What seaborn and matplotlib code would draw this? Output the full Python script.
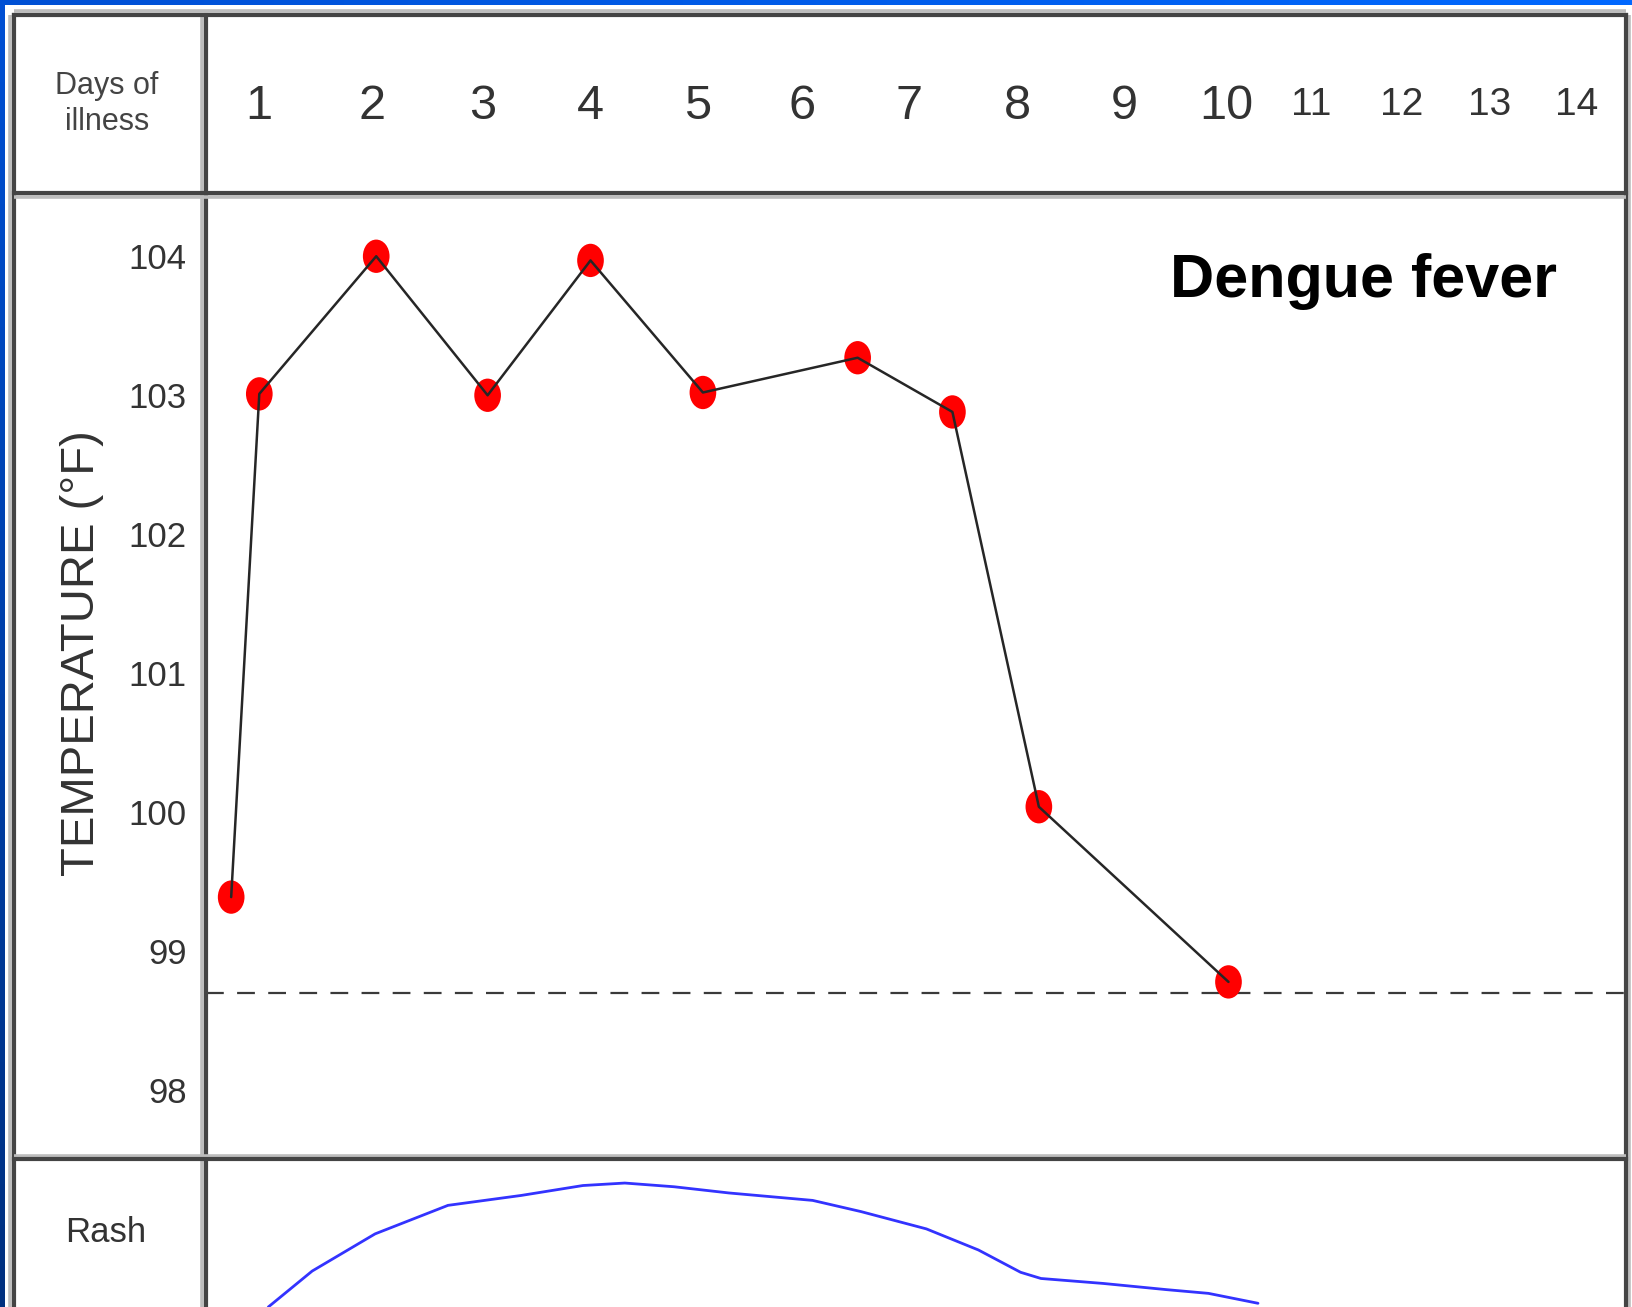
import numpy as np
import matplotlib
matplotlib.use("Agg")
import matplotlib.pyplot as plt
import matplotlib.transforms as mtransforms
from matplotlib.path import Path
import seaborn as sns

# ---- data ----
days = list(range(1, 15))
day_labels = [str(d) for d in days]
temp_ticks = [98, 99, 100, 101, 102, 103, 104]

fever_day = [0.75, 1.0, 2.04, 3.05, 4.0, 5.05, 6.52, 7.4, 8.2, 10.02]
fever_temp = [99.39, 103.01, 104.0, 103.0, 103.97, 103.02, 103.27, 102.88, 100.04, 98.78]
normal_temp = 98.7

rash_day = [1.08, 1.47, 2.03, 2.69, 3.36, 3.93, 4.32, 4.78, 5.30, 6.10, 6.55,
            7.16, 7.64, 8.03, 8.22, 8.80, 9.41, 9.82, 10.37]
rash_level = [0.0, 0.29, 0.59, 0.82, 0.90, 0.98, 1.0, 0.97, 0.92, 0.86, 0.77,
              0.63, 0.46, 0.28, 0.23, 0.19, 0.14, 0.11, 0.03]

# ---- layout ----
W, H = 1633, 1307
sns.set_theme(style="white")
plt.rcParams["font.family"] = ["Liberation Sans", "DejaVu Sans"]

# day columns are not evenly spaced on the chart (11-14 squeezed)
col_day = [0, 1, 2, 3, 4, 5, 6, 7, 8, 9, 10, 11, 12, 13, 14, 15]
col_px = [146.8, 259.3, 371.8, 482.2, 590.5, 697.7, 801.9, 909.1, 1017.4,
          1124.7, 1226.8, 1311.1, 1401.7, 1489.2, 1576.7, 1664.0]


def fwd(x):
    return np.interp(x, col_day, col_px)


def inv(p):
    return np.interp(p, col_px, col_day)


x_lo, x_hi = inv(206), inv(1626)

fig = plt.figure(figsize=(W / 100, H / 100), dpi=100)
fig.patch.set_facecolor("white")


def box(x0, y0, x1, y1, **kw):
    return fig.add_axes([x0 / W, 1 - y1 / H, (x1 - x0) / W, (y1 - y0) / H], **kw)


def setup_x(a):
    a.set_xscale("function", functions=(fwd, inv))
    a.set_xlim(x_lo, x_hi)
    a.set_xticks([])
    for s in a.spines.values():
        s.set_visible(False)
    a.set_facecolor("none")


# main temperature panel
ax = box(206, 193, 1626, 1159)
setup_x(ax)
ax.set_ylim(97.506, 104.455)
ax.set_yticks(temp_ticks)
ax.set_yticklabels([str(t) for t in temp_ticks], fontsize=25, color="#333333")
ax.tick_params(axis="y", length=0, pad=14)
ax.set_xlabel("")
ax.set_ylabel("")

ax.axhline(normal_temp, color="#3a3a3a", lw=1.6, dashes=(8, 6), zorder=1)
ell = Path.unit_circle().transformed(mtransforms.Affine2D().scale(0.8, 1.0))
sns.scatterplot(x=fever_day, y=fever_temp, ax=ax, marker=ell, s=24 ** 2,
                color="#ff0000", edgecolor="none", zorder=2, legend=False)
sns.lineplot(x=fever_day, y=fever_temp, ax=ax, sort=False, color="#262626",
             lw=1.8, zorder=3, legend=False)
ax.text(0.815, 0.908, "Dengue fever", transform=ax.transAxes, ha="center",
        va="center", fontsize=44, fontweight="bold", color="black")

# header row with day numbers
ax_head = box(206, 14.5, 1626, 193)
setup_x(ax_head)
ax_head.set_yticks([])
tr = mtransforms.blended_transform_factory(ax_head.transData, ax_head.transAxes)
for d, lab in zip(days, day_labels):
    ax_head.text(d, 0.515, lab, transform=tr, ha="center", va="center_baseline",
                 fontsize=35 if d <= 10 else 28, color="#333333")

# rash row (runs off the bottom edge)
ax_rash = box(206, 1159, 1626, 1307)
setup_x(ax_rash)
ax_rash.set_ylim(0, 1.194)
ax_rash.set_yticks([])
sns.lineplot(x=rash_day, y=rash_level, ax=ax_rash, sort=False, color="#3333ff",
             lw=2.0, legend=False)

# left column texts
fig.text(107 / W, 1 - 86 / H, "Days of", ha="center", va="center",
         fontsize=22, color="#444444")
fig.text(107 / W, 1 - 122 / H, "illness", ha="center", va="center",
         fontsize=22, color="#444444")
fig.text(82 / W, 1 - 653 / H, "TEMPERATURE (°F)", rotation=90, ha="center",
         va="center", fontsize=34, color="#333333")
fig.text(106 / W, 1 - 1232 / H, "Rash", ha="center", va="center",
         fontsize=25, color="#333333")

# frame: blue window edge + table rules, in pixel units
ov = fig.add_axes([0, 0, 1, 1], zorder=10)
ov.set_xlim(0, W)
ov.set_ylim(H, 0)
ov.axis("off")
ov.patch.set_alpha(0)
grad_top = np.linspace(0, 1, 256)[None, :]
ov.imshow(grad_top, extent=(0, W, 5.5, 0), aspect="auto",
          cmap=matplotlib.colors.LinearSegmentedColormap.from_list("t", ["#0050d4", "#0068ff"]))
grad_left = np.linspace(0, 1, 256)[:, None]
ov.imshow(grad_left, extent=(0, 5, H, 0), aspect="auto",
          cmap=matplotlib.colors.LinearSegmentedColormap.from_list("l", ["#0050d4", "#00307f"]))
ov.set_xlim(0, W)
ov.set_ylim(H, 0)

rules = [
    ((14, 14), (14.5, H), (-3.5, 0)),
    ((1626, 1626), (14.5, H), (3.5, 0)),
    ((206, 206), (14.5, H), (-3.5, 0)),
    ((14, 1626), (14.5, 14.5), (0, -3.5)),
    ((14, 1626), (193, 193), (0, 3.5)),
    ((14, 1626), (1159, 1159), (0, -3.5)),
]
for xs, ys, (dx, dy) in rules:
    ov.plot([x + dx for x in xs], [y + dy for y in ys], color="#bdbdbd", lw=2.6,
            solid_capstyle="butt")
    ov.plot(xs, ys, color="#444444", lw=3.0, solid_capstyle="projecting")

fig.savefig("out.png", dpi=100)
